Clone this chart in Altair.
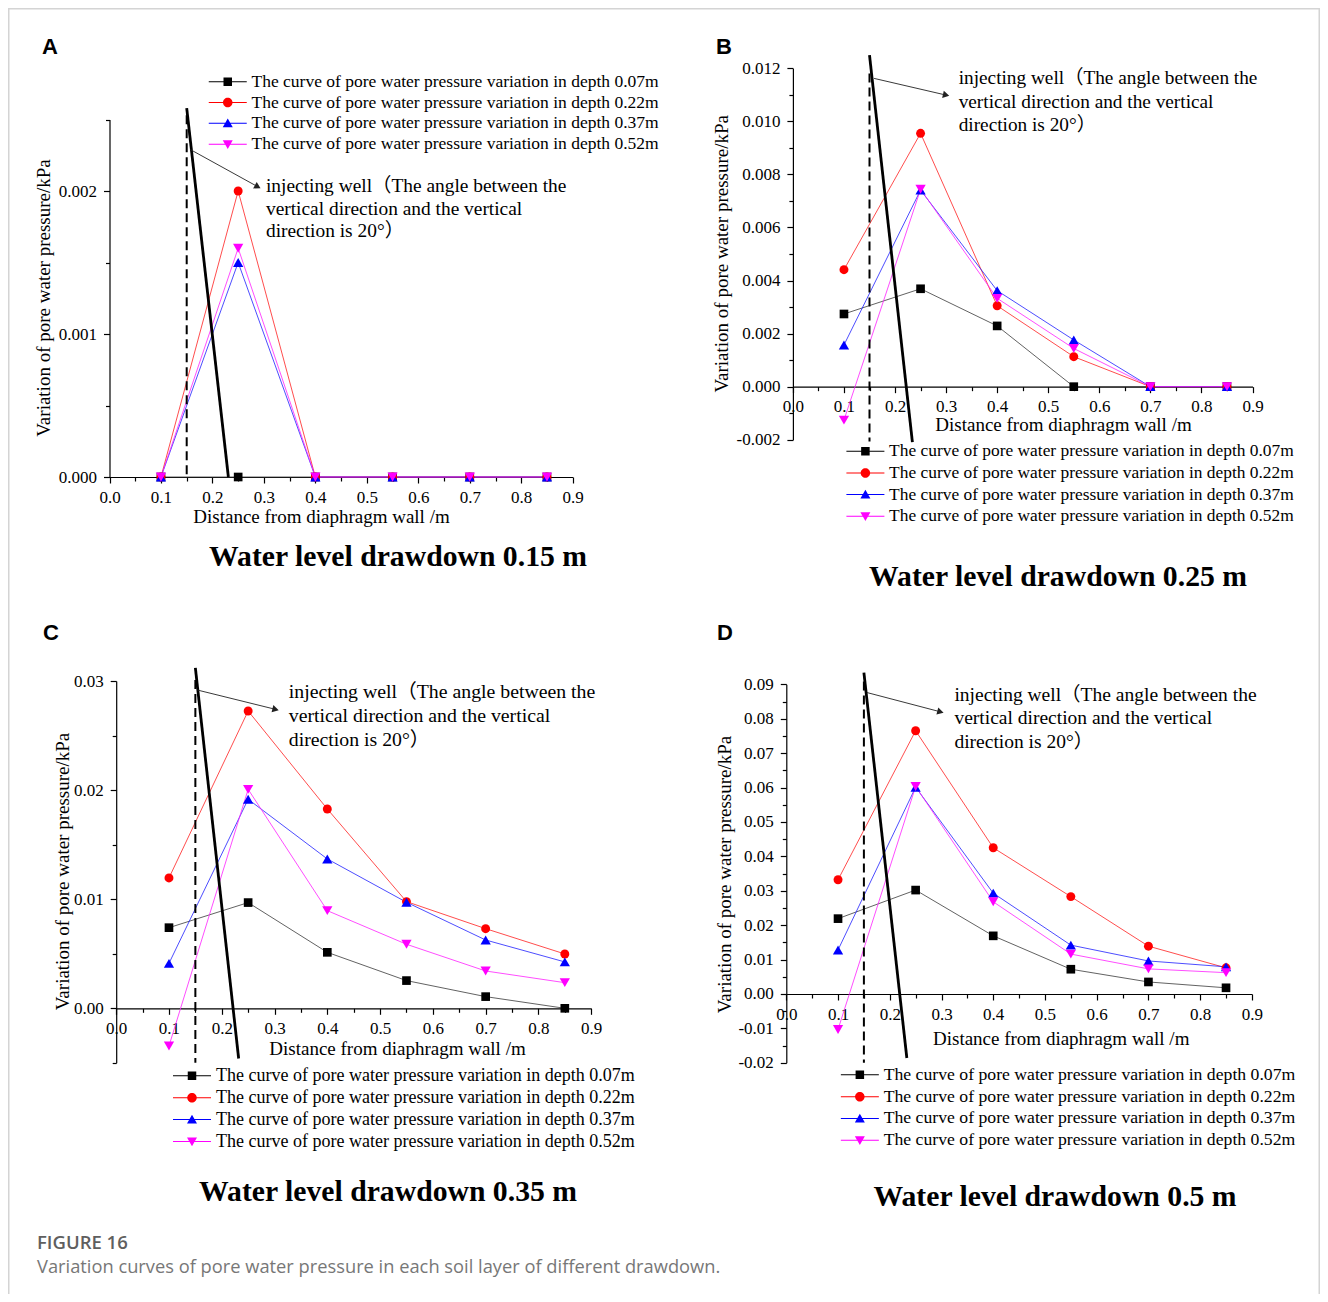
import math
import altair as alt
import pandas as pd

# ------------------------------------------------------------------ data
distance = [0.1, 0.25, 0.4, 0.55, 0.7, 0.85]
depths = ["0.07m", "0.22m", "0.37m", "0.52m"]
legend_labels = [f"The curve of pore water pressure variation in depth {d}" for d in depths]

# Panel A : drawdown 0.15 m
a_007 = [0.0, 0.0, 0.0, 0.0, 0.0, 0.0]
a_022 = [0.0, 0.0020, 0.0, 0.0, 0.0, 0.0]
a_037 = [0.0, 0.0015, 0.0, 0.0, 0.0, 0.0]
a_052 = [0.0, 0.0016, 0.0, 0.0, 0.0, 0.0]
# Panel B : drawdown 0.25 m
b_007 = [0.00274, 0.00369, 0.00229, 0.0, 0.0, 0.0]
b_022 = [0.00441, 0.00955, 0.00305, 0.00113, 0.0, 0.0]
b_037 = [0.00157, 0.00741, 0.00362, 0.00176, 0.0, 0.0]
b_052 = [-0.00126, 0.00744, 0.00333, 0.00144, 0.0, 0.0]
# Panel C : drawdown 0.35 m
c_007 = [0.00739, 0.00969, 0.00513, 0.00254, 0.00107, 0.0]
c_022 = [0.01195, 0.02725, 0.01827, 0.00978, 0.0073, 0.00498]
c_037 = [0.00412, 0.01916, 0.01369, 0.00972, 0.00626, 0.00425]
c_052 = [-0.00345, 0.02007, 0.00895, 0.00587, 0.00342, 0.00235]
# Panel D : drawdown 0.5 m
d_007 = [0.0219, 0.0302, 0.0169, 0.0072, 0.0035, 0.0018]
d_022 = [0.0332, 0.0765, 0.0425, 0.0283, 0.0139, 0.0076]
d_037 = [0.0128, 0.0601, 0.0293, 0.0142, 0.0096, 0.0079]
d_052 = [-0.0103, 0.0603, 0.0268, 0.0116, 0.0073, 0.0062]

panel_series = {
    "A": [a_007, a_022, a_037, a_052],
    "B": [b_007, b_022, b_037, b_052],
    "C": [c_007, c_022, c_037, c_052],
    "D": [d_007, d_022, d_037, d_052],
}
panel_titles = {"A": "Water level drawdown 0.15 m", "B": "Water level drawdown 0.25 m",
                "C": "Water level drawdown 0.35 m", "D": "Water level drawdown 0.5 m"}
x_title = "Distance from diaphragm wall /m"
y_title = "Variation of pore water pressure/kPa"
note_lines = ["injecting well\uff08The angle between the", "vertical direction and the vertical",
              "direction is 20\u00b0\uff09"]
caption_head = "FIGURE 16"
caption_text = "Variation curves of pore water pressure in each soil layer of different drawdown."

# injecting-well sketch, in each panel's data units
well_x = 0.15
well_dash_y = {"A": [0.00253, 0.0], "B": [0.0118, -0.00207], "C": [0.0301, -0.005], "D": [0.0908, -0.02]}
well_solid_x = {"A": [0.15, 0.231], "B": [0.15, 0.234], "C": [0.15, 0.232], "D": [0.15, 0.233]}
well_solid_y = {"A": [0.00258, 0.0], "B": [0.0125, -0.00209], "C": [0.0312, -0.0046], "D": [0.0934, -0.0186]}
arrow_x = {"A": [0.157, 0.288], "B": [0.159, 0.300], "C": [0.154, 0.302], "D": [0.156, 0.298]}
arrow_y = {"A": [0.00229, 0.00203], "B": [0.01162, 0.01099], "C": [0.02917, 0.0274], "D": [0.0876, 0.0820]}
note_x = {"A": 0.304, "B": 0.3246, "C": 0.327, "D": 0.325}
note_y = {"A": 0.002096, "B": 0.011963, "C": 0.02988, "D": 0.08963}

# ------------------------------------------------------------------ styles / layout
SERIF = "Liberation Serif, Noto Sans CJK SC"
colors = ["#000000", "#ff0000", "#0000ff", "#ff00ff"]
line_colors = ["#3a3a3a", "#ff2020", "#2020ff", "#ff20ff"]
shapes = ["square", "circle", "triangle-up", "triangle-down"]
marker_sizes = [75, 80, 105, 105]
_bar = "M-3.8,-0.1H3.8V0.1H-3.8Z"
legend_paths = [
    _bar + "M-0.85,-0.85H0.85V0.85H-0.85Z",
    _bar + "M0.95,0A0.95,0.95,0,1,1,-0.95,0A0.95,0.95,0,1,1,0.95,0Z",
    _bar + "M0,-0.95L1,0.8L-1,0.8Z",
    _bar + "M-1,-0.8L1,-0.8L0,0.95Z",
]
W, H = 1312, 1286

LAYOUT = {
    "A": dict(xr=[101.5, 564.7], ydom=[0.0, 0.0025], yr=[469.0, 111.5], ystep=0.0005, yk=1000, yfmt=".3f",
              xoff=469.0 - H, yoff=-101.5, xt=(313.0, 39.7), yt=(-65.7, 289.5),
              leg=(211.0, 65.0, 1.8, 17.5), note=(19.4, 22.6)),
    "B": dict(xr=[784.9, 1244.5], ydom=[-0.002, 0.012], yr=[431.73, 60.31], ystep=0.001, yk=500, yfmt=".3f",
              xoff=378.67 - H, yoff=-784.9, xt=(1055.0, 38.3), yt=(-71.5, 245.3),
              leg=(848.7, 434.5, 2.7, 17.4), note=(19.3, 23.3)),
    "C": dict(xr=[108.2, 583.2], ydom=[-0.005, 0.03], yr=[1054.85, 673.0], ystep=0.005, yk=100, yfmt=".2f",
              xoff=1000.3 - H, yoff=-108.2, xt=(389.0, 40.0), yt=(-54.2, 863.0),
              leg=(175.0, 1058.8, 3.9, 18.0), note=(19.8, 23.8)),
    "D": dict(xr=[778.3, 1243.9], ydom=[-0.02, 0.09], yr=[1054.82, 676.3], ystep=0.005, yk=100, yfmt=".2f",
              xoff=986.0 - H, yoff=-778.3, xt=(1052.7, 44.3), yt=(-61.5, 866.0),
              leg=(843.0, 1058.0, 2.8, 17.7), note=(19.5, 23.8)),
}
TITLE_POS = {"A": (398, 557), "B": (1058, 577), "C": (388, 1192), "D": (1055, 1197)}
LETTER_POS = {"A": (50, 47), "B": (724, 47), "C": (51, 633), "D": (725, 633)}


def minor_test(k):
    return f"abs(round(datum.value*{k}) - datum.value*{k}) > 0.25"


def label_expr(k, fmt):
    return (f"({minor_test(k)}) ? '' : ((datum.value < -1e-9 ? '-' : '') + "
            f"format(abs(datum.value), '{fmt}'))")


def panel(key):
    L = LAYOUT[key]
    vals = panel_series[key]
    xs = alt.Scale(domain=[0.0, 0.9], range=L["xr"], nice=False, zero=False)
    ys = alt.Scale(domain=L["ydom"], range=L["yr"], nice=False, zero=False)
    xvals = [round(i * 0.05, 4) for i in range(19)]
    n = int(round((L["ydom"][1] - L["ydom"][0]) / L["ystep"]))
    yvals = [round(L["ydom"][0] + i * L["ystep"], 6) for i in range(n + 1)]

    xaxis = alt.Axis(
        orient="bottom", offset=L["xoff"], values=xvals, labelExpr=label_expr(10, ".1f"),
        tickSize={"condition": {"test": minor_test(10), "value": 4}, "value": 6},
        title=x_title, titleX=L["xt"][0], titleY=L["xt"][1], titleAngle=0, titleAlign="center",
        titleBaseline="middle", labelPadding=6, labelFlush=False, labelOverlap=False,
    )
    yaxis = alt.Axis(
        orient="left", offset=L["yoff"], values=yvals, labelExpr=label_expr(L["yk"], L["yfmt"]),
        tickSize={"condition": {"test": minor_test(L["yk"]), "value": 4}, "value": 6},
        title=y_title, titleX=L["yt"][0], titleY=L["yt"][1], titleAngle=270, titleAlign="center",
        titleBaseline="middle", labelPadding=7, labelOverlap=False,
    )
    X = alt.X("x:Q", scale=xs, axis=xaxis)
    Y = alt.Y("y:Q", scale=ys, axis=yaxis)

    rows = []
    for name, ys_ in zip(legend_labels, vals):
        for xv, yv in zip(distance, ys_):
            rows.append({"x": xv, "y": yv, "series": name})
    df = pd.DataFrame(rows)

    layers = []
    for name, c in zip(legend_labels, line_colors):
        layers.append(alt.Chart(df).transform_filter(alt.datum.series == name)
                      .mark_line(color=c, strokeWidth=0.8).encode(x=X, y=Y))

    dash_df = pd.DataFrame({"x": [well_x, well_x], "y": well_dash_y[key]})
    layers.append(alt.Chart(dash_df).mark_line(color="black", strokeWidth=2, strokeDash=[9, 5])
                  .encode(x=X, y=Y))
    solid_df = pd.DataFrame({"x": well_solid_x[key], "y": well_solid_y[key]})
    layers.append(alt.Chart(solid_df).mark_line(color="black", strokeWidth=2.8).encode(x=X, y=Y))

    ax, ay = arrow_x[key], arrow_y[key]
    arr_df = pd.DataFrame({"x": [ax[0]], "y": [ay[0]], "x2": [ax[1]], "y2": [ay[1]]})
    layers.append(alt.Chart(arr_df).mark_rule(color="#222222", strokeWidth=0.9)
                  .encode(x=X, y=Y, x2="x2:Q", y2="y2:Q"))
    pdx = (ax[1] - ax[0]) / 0.9 * (L["xr"][1] - L["xr"][0])
    pdy = -(ay[1] - ay[0]) / (L["ydom"][1] - L["ydom"][0]) * (L["yr"][0] - L["yr"][1])
    ang = math.degrees(math.atan2(pdy, pdx)) % 360
    head_df = pd.DataFrame({"x": [ax[1]], "y": [ay[1]]})
    layers.append(alt.Chart(head_df).mark_point(shape="triangle-right", filled=True, color="#222222",
                                                 size=55, angle=ang, opacity=1).encode(x=X, y=Y))

    nfs, nlh = L["note"]
    note_df = pd.DataFrame({"x": [note_x[key]], "y": [note_y[key]]})
    layers.append(alt.Chart(note_df).mark_text(text=note_lines, align="left", baseline="top",
                                               font=SERIF, fontSize=nfs, lineHeight=nlh, color="black")
                  .encode(x=X, y=Y))

    for name, c, s, sz in zip(legend_labels, colors, shapes, marker_sizes):
        layers.append(alt.Chart(df).transform_filter(alt.datum.series == name)
                      .mark_point(shape=s, filled=True, color=c, size=sz, opacity=1).encode(x=X, y=Y))

    lx, ly, rp, lfs = L["leg"]
    leg = alt.Legend(orient="none", legendX=lx, legendY=ly, title=None, direction="vertical",
                     symbolSize=100, symbolStrokeWidth=0, symbolOpacity=1, labelFont=SERIF,
                     labelFontSize=lfs, labelColor="black", labelLimit=1000, rowPadding=rp,
                     padding=0, offset=0, labelOffset=15)
    layers.append(alt.Chart(df).mark_point(filled=True, opacity=0, size=100).encode(
        x=X, y=Y,
        color=alt.Color("series:N", scale=alt.Scale(domain=legend_labels, range=colors), legend=leg),
        shape=alt.Shape("series:N", scale=alt.Scale(domain=legend_labels, range=legend_paths), legend=leg),
    ))
    return alt.layer(*layers)


def text_layer(text, px, py, font, size, weight="normal", color="black", align="center"):
    return alt.Chart(pd.DataFrame({"t": [text]})).mark_text(
        font=font, fontSize=size, fontWeight=weight, color=color, align=align, baseline="middle"
    ).encode(x=alt.value(px - 8), y=alt.value(py - 8), text="t:N")


def border(**enc):
    return alt.Chart(pd.DataFrame({"a": [0]})).mark_rule(color="#d4d4d4", strokeWidth=1.5).encode(**enc)


layers = [
    border(x=alt.value(0.75), y=alt.value(0), y2=alt.value(H)),
    border(x=alt.value(0), x2=alt.value(W), y=alt.value(0.75)),
    border(x=alt.value(W - 0.75), y=alt.value(0), y2=alt.value(H)),
]
for k in ["A", "B", "C", "D"]:
    layers.append(panel(k))
for k in ["A", "B", "C", "D"]:
    tx, ty = TITLE_POS[k]
    layers.append(text_layer(panel_titles[k], tx, ty, "Liberation Serif", 29.7, "bold"))
    lx, ly = LETTER_POS[k]
    layers.append(text_layer(k, lx, ly, "Liberation Sans", 22, "bold"))
layers.append(text_layer(caption_head, 37, 1243, "Open Sans", 18.5, 600, "#5f5f5f", "left"))
layers.append(text_layer(caption_text, 37, 1268, "Open Sans", 18.3, "normal", "#777777", "left"))

chart = alt.layer(*layers).resolve_scale(
    x="independent", y="independent", color="independent", shape="independent"
).resolve_axis(x="independent", y="independent").resolve_legend(
    color="independent", shape="independent"
).properties(
    width=W, height=H, autosize=alt.AutoSizeParams(type="none"), padding=0
).configure_view(stroke=None).configure_axis(
    grid=False, domainColor="black", domainWidth=1.2, tickColor="black", tickWidth=1.2,
    labelColor="black", labelFont="Liberation Serif", labelFontSize=17,
    titleColor="black", titleFont="Liberation Serif", titleFontSize=19, titleFontWeight="normal",
)

chart.save("out.html", embed_options={"renderer": "svg", "actions": False})
